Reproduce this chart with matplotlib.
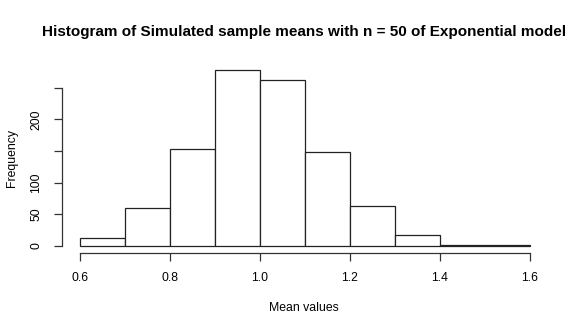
import matplotlib
matplotlib.use("Agg")
import matplotlib.pyplot as plt
import numpy as np

plt.rcParams['font.family'] = ['Liberation Sans', 'DejaVu Sans']

bin_edges = [0.6, 0.7, 0.8, 0.9, 1.0, 1.1, 1.2, 1.3, 1.4, 1.5, 1.6]
counts = [12, 60, 154, 278, 263, 149, 63, 18, 2, 1]
x_ticks = [0.6, 0.8, 1.0, 1.2, 1.4, 1.6]
x_tick_labels = ["0.6", "0.8", "1.0", "1.2", "1.4", "1.6"]
y_ticks = [0, 50, 100, 150, 200, 250]
y_tick_labels = ["0", "50", "100", "", "200", ""]

W, H = 580, 332
fig = plt.figure(figsize=(W / 100, H / 100), dpi=100)
ax = fig.add_axes([62 / W, 1 - 253 / H, (548 - 62) / W, (253 - 63) / H])

edges = np.array(bin_edges)
ax.bar(edges[:-1], counts, width=np.diff(edges), align='edge',
       facecolor='white', edgecolor='#222222', linewidth=0.9)

xr = edges[-1] - edges[0]
ax.set_xlim(edges[0] - 0.04 * xr, edges[-1] + 0.04 * xr)
ymax = max(counts)
ax.set_ylim(-0.04 * ymax, ymax * 1.04)

for s in ('top', 'right'):
    ax.spines[s].set_visible(False)
ax.spines['left'].set_bounds(y_ticks[0], y_ticks[-1])
ax.spines['bottom'].set_bounds(x_ticks[0], x_ticks[-1])
for s in ('left', 'bottom'):
    ax.spines[s].set_color('#333333')
    ax.spines[s].set_linewidth(0.9)

ax.set_xticks(x_ticks)
ax.set_xticklabels(x_tick_labels)
ax.set_yticks(y_ticks)
ax.set_yticklabels(y_tick_labels, rotation=90, va='center')
ax.tick_params(axis='both', length=6, width=0.9, color='#333333',
               labelsize=8.8, pad=8)

fig.text(304 / W, 1 - 32 / H,
         "Histogram of Simulated sample means with n = 50 of Exponential model",
         ha='center', va='center', fontsize=11.0, fontweight='bold')
fig.text(304 / W, 1 - 308 / H, "Mean values",
         ha='center', va='center', fontsize=8.8)
fig.text(12 / W, 1 - 158 / H, "Frequency", rotation=90,
         ha='center', va='center', fontsize=8.8)

fig.savefig("out.png", dpi=100)
